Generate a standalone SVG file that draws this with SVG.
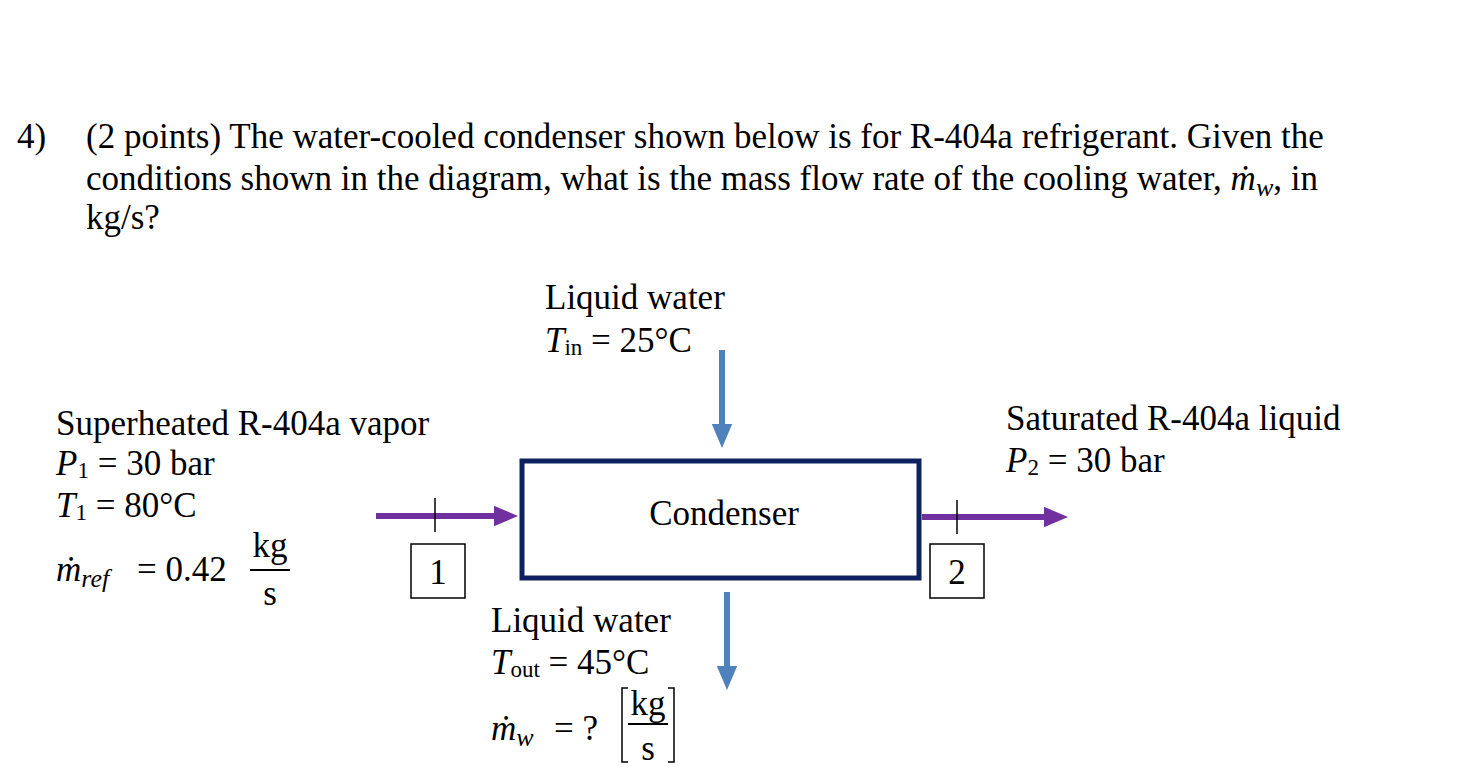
<svg xmlns="http://www.w3.org/2000/svg" width="1475" height="771" viewBox="0 0 1475 771">
<defs>
<style>
text{font-family:"Liberation Serif","Times New Roman",serif;font-size:35px;fill:#000}
.it{font-style:italic}
.sub{font-size:23px}
.p{stroke:#7030A0;stroke-width:6;fill:none}
.b{stroke:#4F81BD;stroke-width:6;fill:none}
.k{stroke:#000;stroke-width:1.5;fill:none}
</style>
<marker id="mp" markerWidth="4" markerHeight="4" refX="2" refY="2" orient="auto" markerUnits="strokeWidth"><path d="M0,0.3 L4,2 L0,3.7Z" fill="#7030A0"/></marker>
<marker id="mb" markerWidth="4" markerHeight="4" refX="2" refY="2" orient="auto" markerUnits="strokeWidth"><path d="M0,0.3 L4,2 L0,3.7Z" fill="#4F81BD"/></marker>
</defs>
<rect width="1475" height="771" fill="#fff"/>
<g id="question">
<text x="17" y="148">4)</text>
<text x="86" y="148">(2 points) The water-cooled condenser shown below is for R-404a refrigerant. Given the</text>
<text x="86" y="190">conditions shown in the diagram, what is the mass flow rate of the cooling water, <tspan class="it">ṁ</tspan><tspan class="it" font-size="26" dy="6">w</tspan><tspan dy="-6">, in</tspan></text>
<text x="86" y="229">kg/s?</text>
</g>
<g id="condenser">
<rect x="522" y="461" width="397" height="117" fill="none" stroke="#0F2260" stroke-width="5"/>
<text x="724" y="525" text-anchor="middle">Condenser</text>
</g>
<g id="state1">
<rect x="411" y="544" width="54" height="54" class="k"/>
<text x="438" y="584" text-anchor="middle">1</text>
</g>
<g id="state2">
<rect x="930" y="544" width="54" height="54" class="k"/>
<text x="957" y="584" text-anchor="middle">2</text>
</g>
<g id="inlet-label">
<text x="56" y="435">Superheated R-404a vapor</text>
<text x="56" y="475"><tspan class="it">P</tspan><tspan class="sub" dy="3">1</tspan><tspan dy="-3"> = 30 bar</tspan></text>
<text x="56" y="517"><tspan class="it">T</tspan><tspan class="sub" dy="3">1</tspan><tspan dy="-3"> = 80°C</tspan></text>
<text x="56" y="581"><tspan class="it">ṁ</tspan><tspan class="it" font-size="26" dy="6">ref</tspan></text>
<text x="137" y="581">= 0.42</text>
<text x="270" y="557" text-anchor="middle">kg</text>
<line x1="250" y1="570" x2="290" y2="570" stroke="#000" stroke-width="2"/>
<text x="270" y="605" text-anchor="middle">s</text>
</g>
<g id="outlet-label">
<text x="1006" y="430">Saturated R-404a liquid</text>
<text x="1006" y="472"><tspan class="it">P</tspan><tspan class="sub" dy="3">2</tspan><tspan dy="-3"> = 30 bar</tspan></text>
</g>
<g id="water-in-label">
<text x="545" y="309">Liquid water</text>
<text x="545" y="352"><tspan class="it">T</tspan><tspan class="sub" dy="3">in</tspan><tspan dy="-3"> = 25°C</tspan></text>
</g>
<g id="water-out-label">
<text x="491" y="632">Liquid water</text>
<text x="491" y="674"><tspan class="it">T</tspan><tspan class="sub" dy="3">out</tspan><tspan dy="-3"> = 45°C</tspan></text>
<text x="491" y="740"><tspan class="it">ṁ</tspan><tspan class="it" font-size="26" dy="6">w</tspan></text>
<text x="554" y="740">= ?</text>
<path d="M628,688 h-6 v74 h6 M668,688 h6 v74 h-6" class="k" stroke-width="2"/>
<text x="648" y="715" text-anchor="middle">kg</text>
<line x1="628" y1="724" x2="668" y2="724" stroke="#000" stroke-width="2"/>
<text x="648" y="760" text-anchor="middle">s</text>
</g>
<g id="connectors">
<line x1="376" y1="516" x2="506" y2="516" class="p" marker-end="url(#mp)"/>
<line x1="435" y1="498" x2="435" y2="532" class="k"/>
<line x1="922" y1="517" x2="1056" y2="517" class="p" marker-end="url(#mp)"/>
<line x1="957" y1="500" x2="957" y2="534" class="k"/>
<line x1="722" y1="350" x2="722" y2="436" class="b" marker-end="url(#mb)"/>
<line x1="727" y1="592" x2="727" y2="678" class="b" marker-end="url(#mb)"/>
</g>
</svg>
